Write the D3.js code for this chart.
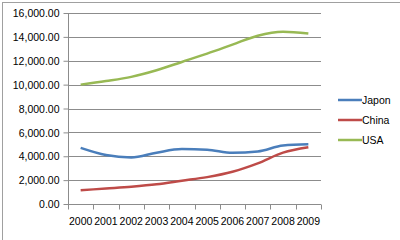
<!DOCTYPE html>
<html>
<head>
<meta charset="utf-8">
<script src="https://cdn.jsdelivr.net/npm/d3@7"></script>
<style>
  body { margin: 0; background: #fff; }
  text { font-family: "Liberation Sans", Arial, sans-serif; font-size: 10.5px; fill: #000; }
</style>
</head>
<body>
<div id="chart"></div>
<script>
var years = ["2000", "2001", "2002", "2003", "2004", "2005", "2006", "2007", "2008", "2009"];
var japon = [4700, 4100, 3900, 4300, 4600, 4550, 4300, 4400, 4900, 5000];
var china = [1150, 1300, 1450, 1650, 1950, 2250, 2700, 3400, 4300, 4750];
var usa = [10000, 10300, 10650, 11200, 11900, 12600, 13350, 14100, 14420, 14280];
var yTicks = [0, 2000, 4000, 6000, 8000, 10000, 12000, 14000, 16000];

var seriesNames = ["Japon", "China", "USA"];
var seriesColors = ["#4a7ebb", "#be4b48", "#98b954"];
var seriesData = [japon, china, usa];

var svgWidth = 400;
var svgHeight = 240;

var margin = { top: 13, left: 68 };
var width = 321 - margin.left;
var height = 204 - margin.top;

var svg = d3.select("#chart")
  .append("svg")
  .attr("width", svgWidth)
  .attr("height", svgHeight);

// outer chart border
svg.append("rect")
  .attr("x", 2.5)
  .attr("y", 2.5)
  .attr("width", svgWidth)
  .attr("height", svgHeight)
  .attr("fill", "none")
  .attr("stroke", "#a0a0a0");

var chartGroup = svg.append("g")
  .attr("transform", `translate(${margin.left}, ${margin.top})`);

var xBand = d3.scaleBand()
  .domain(years)
  .range([0, width]);

var yLinearScale = d3.scaleLinear()
  .domain([0, 16000])
  .range([height, 0]);

// gridlines
chartGroup.append("g")
  .selectAll("line")
  .data(yTicks.slice(1))
  .enter()
  .append("line")
  .attr("x1", 0)
  .attr("x2", width)
  .attr("y1", d => Math.round(yLinearScale(d)) + 0.5)
  .attr("y2", d => Math.round(yLinearScale(d)) + 0.5)
  .attr("stroke", "#8c8c8c");

// y axis
var leftAxis = d3.axisLeft(yLinearScale)
  .tickValues(yTicks)
  .tickSize(5)
  .tickPadding(4)
  .tickFormat(d3.format(",.2f"));

var yAxis = chartGroup.append("g")
  .attr("transform", "translate(0.5, 0)")
  .call(leftAxis);
yAxis.selectAll("line").attr("stroke", "#8c8c8c");
yAxis.select(".domain").attr("stroke", "#8c8c8c").attr("d", `M0,0V${height}`);
yAxis.selectAll("text")
  .attr("dy", "0.35em")
  .style("font-family", "'Liberation Sans', Arial, sans-serif")
  .style("font-size", "10.5px");

// x axis, ticks at category boundaries
var xEdges = d3.range(years.length + 1).map(i => i * xBand.step());
var xAxis = chartGroup.append("g")
  .attr("transform", `translate(0, ${height + 0.5})`);
xAxis.append("line")
  .attr("x1", 0)
  .attr("x2", width)
  .attr("stroke", "#8c8c8c");
xAxis.selectAll("line.tick")
  .data(xEdges)
  .enter()
  .append("line")
  .attr("class", "tick")
  .attr("x1", d => Math.round(d) + 0.5)
  .attr("x2", d => Math.round(d) + 0.5)
  .attr("y1", 0)
  .attr("y2", 5)
  .attr("stroke", "#8c8c8c");
xAxis.selectAll("text")
  .data(years)
  .enter()
  .append("text")
  .attr("x", d => xBand(d) + xBand.bandwidth() / 2)
  .attr("y", 20.5)
  .attr("text-anchor", "middle")
  .text(d => d);

// lines
var line = d3.line()
  .x((d, i) => xBand(years[i]) + xBand.bandwidth() / 2)
  .y(d => yLinearScale(d))
  .curve(d3.curveMonotoneX);

seriesData.forEach(function(values, k) {
  chartGroup.append("path")
    .datum(values)
    .attr("d", line)
    .attr("fill", "none")
    .attr("stroke", seriesColors[k])
    .attr("stroke-width", 2.5)
    .attr("stroke-linejoin", "round");
});

// legend
var legend = svg.append("g")
  .attr("transform", "translate(338, 100)");
var legendItems = legend.selectAll("g")
  .data(seriesNames)
  .enter()
  .append("g")
  .attr("transform", (d, i) => `translate(0, ${i * 20})`);
legendItems.append("line")
  .attr("x1", 0)
  .attr("x2", 24)
  .attr("stroke", (d, i) => seriesColors[i])
  .attr("stroke-width", 2.5);
legendItems.append("text")
  .attr("x", 24)
  .attr("dy", "0.35em")
  .text(d => d);
</script>
</body>
</html>
